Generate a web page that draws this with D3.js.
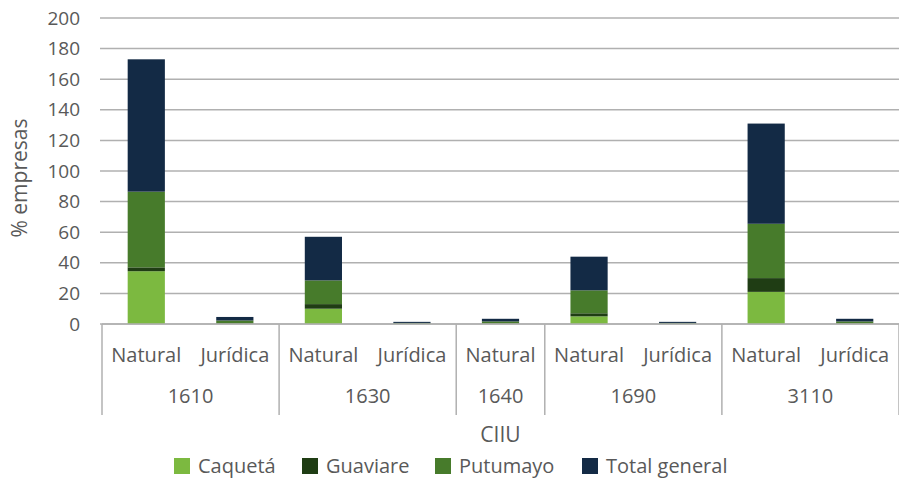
<!DOCTYPE html>
<html>
<head>
<meta charset="utf-8">
<script src="https://cdn.jsdelivr.net/npm/d3@7"></script>
<style>
  body { margin: 0; background: #fff; }
  text { font-family: "Open Sans", sans-serif; fill: #595959; }
</style>
</head>
<body>
<svg width="899" height="483"></svg>
<script>
// categories: CIIU code + tipo de persona
const groups = ["1610", "1610", "1630", "1630", "1640", "1690", "1690", "3110", "3110"]
const types = ["Natural", "Jurídica", "Natural", "Jurídica", "Natural", "Natural", "Jurídica", "Natural", "Jurídica"]

const seriesNames = ["Caquetá", "Guaviare", "Putumayo", "Total general"]
const caqueta = [34.5, 0.3, 10, 0.1, 0.2, 5, 0.1, 21, 0.2]
const guaviare = [2.5, 0.2, 3, 0.1, 0.1, 2, 0.1, 9, 0.1]
const putumayo = [49.5, 1.8, 15.5, 0.5, 1.4, 15, 0.5, 35.5, 1.4]
const totalGeneral = [86.5, 2.3, 28.5, 0.7, 1.7, 22, 0.7, 65.5, 1.7]

const yTicks = [0, 20, 40, 60, 80, 100, 120, 140, 160, 180, 200]
const colors = ["#7cb940", "#1f3d14", "#477b2b", "#132a45"]

const margin = {top: 18, right: 0, bottom: 159, left: 102}
const width = 899 - margin.left - margin.right
const height = 483 - margin.top - margin.bottom

const svg = d3.select("svg")
const g = svg.append("g").attr("transform", `translate(${margin.left}, ${margin.top})`)

const keys = types.map((t, i) => i)
const x = d3.scaleBand()
    .domain(keys)
    .range([0, width])
    .paddingInner(0.58)
    .paddingOuter(0.29)

const y = d3.scaleLinear()
    .domain([0, 200])
    .range([height, 0])

// gridlines
g.selectAll(".grid")
  .data(yTicks)
  .join("line")
    .attr("x1", -2)
    .attr("x2", width)
    .attr("y1", d => y(d))
    .attr("y2", d => y(d))
    .attr("stroke", "#b0b0b0")
    .attr("stroke-width", 1.5)

// y tick labels
g.selectAll(".ytick")
  .data(yTicks)
  .join("text")
    .attr("x", -22)
    .attr("y", d => y(d))
    .attr("dy", "0.35em")
    .attr("text-anchor", "end")
    .attr("font-size", "19px")
    .text(d => d)

// stacked bars
const table = keys.map(i => ({
  key: i,
  "Caquetá": caqueta[i],
  "Guaviare": guaviare[i],
  "Putumayo": putumayo[i],
  "Total general": totalGeneral[i]
}))
const stack = d3.stack().keys(seriesNames)(table)

g.selectAll(".series")
  .data(stack)
  .join("g")
    .attr("fill", (d, i) => colors[i])
  .selectAll("rect")
  .data(d => d)
  .join("rect")
    .attr("x", d => x(d.data.key))
    .attr("width", x.bandwidth())
    .attr("y", d => y(d[1]))
    .attr("height", d => y(d[0]) - y(d[1]))

// category axis (two levels)
const step = x.step()
const xOf = i => x(i) - (step - x.bandwidth()) / 2

g.append("line")
  .attr("x1", 0).attr("x2", width)
  .attr("y1", height).attr("y2", height)
  .attr("stroke", "#b0b0b0").attr("stroke-width", 1.5)

g.selectAll(".cat")
  .data(keys)
  .join("text")
    .attr("x", d => x(d) + x.bandwidth() / 2)
    .attr("y", height + 38)
    .attr("text-anchor", "middle")
    .attr("font-size", "20px")
    .text(d => types[d])

// group spans
const groupSpans = []
groups.forEach((gr, i) => {
  const last = groupSpans[groupSpans.length - 1]
  if (last && last.name === gr) last.end = i
  else groupSpans.push({name: gr, start: i, end: i})
})

g.selectAll(".sep")
  .data(groupSpans.map(s => s.start).concat([keys.length]))
  .join("line")
    .attr("x1", d => d === keys.length ? width : xOf(d))
    .attr("x2", d => d === keys.length ? width : xOf(d))
    .attr("y1", height)
    .attr("y2", height + 91)
    .attr("stroke", "#b0b0b0")
    .attr("stroke-width", 1.5)

g.selectAll(".grp")
  .data(groupSpans)
  .join("text")
    .attr("x", d => (xOf(d.start) + xOf(d.end) + step) / 2)
    .attr("y", height + 79)
    .attr("text-anchor", "middle")
    .attr("font-size", "20px")
    .text(d => d.name)

// axis titles
g.append("text")
  .attr("x", width / 2)
  .attr("y", height + 118)
  .attr("text-anchor", "middle")
  .attr("font-size", "21px")
  .text("CIIU")

g.append("text")
  .attr("transform", "rotate(-90)")
  .attr("x", -(y(100) + 7))
  .attr("y", -75)
  .attr("text-anchor", "middle")
  .attr("font-size", "21px")
  .text("% empresas")

// legend
const legendX = [174, 302, 435, 582]
const legend = svg.append("g")
legend.selectAll("rect")
  .data(seriesNames)
  .join("rect")
    .attr("x", (d, i) => legendX[i])
    .attr("y", 458)
    .attr("width", 16)
    .attr("height", 16)
    .attr("fill", (d, i) => colors[i])

legend.selectAll("text")
  .data(seriesNames)
  .join("text")
    .attr("x", (d, i) => legendX[i] + 24)
    .attr("y", 473)
    .attr("font-size", "20px")
    .text(d => d)
</script>
</body>
</html>
